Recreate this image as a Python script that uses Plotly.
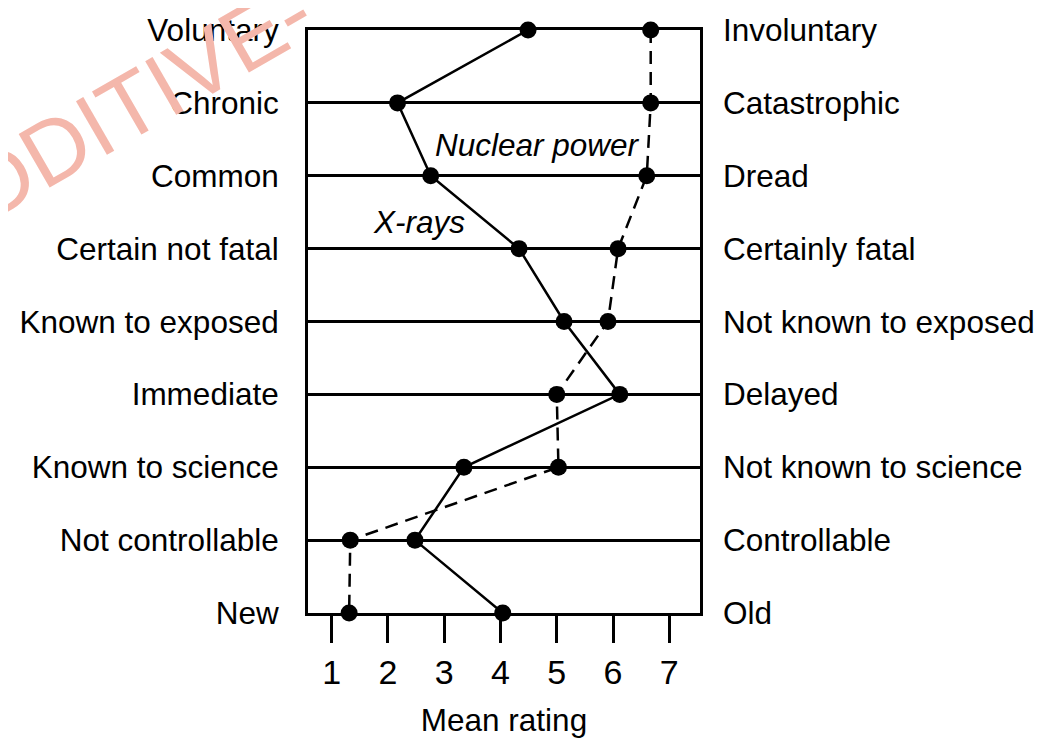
import plotly.graph_objects as go

left_labels = ["Voluntary", "Chronic", "Common", "Certain not fatal", "Known to exposed",
               "Immediate", "Known to science", "Not controllable", "New"]
right_labels = ["Involuntary", "Catastrophic", "Dread", "Certainly fatal", "Not known to exposed",
                "Delayed", "Not known to science", "Controllable", "Old"]
xrays = [4.49, 2.17, 2.76, 4.33, 5.13, 6.12, 3.35, 2.48, 4.04]
nuclear = [6.67, 6.67, 6.60, 6.09, 5.91, 5.00, 5.03, 1.33, 1.31]
x_ticks = [1, 2, 3, 4, 5, 6, 7]

FONT = "Liberation Sans, Arial, Helvetica, sans-serif"
BLACK = "#000000"

fig = go.Figure()

fig.add_trace(go.Scatter(
    x=xrays, y=left_labels, mode="lines+markers", name="X-rays",
    line=dict(color=BLACK, width=2.5), marker=dict(color=BLACK, size=17),
    cliponaxis=False, showlegend=False))
fig.add_trace(go.Scatter(
    x=nuclear, y=left_labels, mode="lines+markers", name="Nuclear power",
    line=dict(color=BLACK, width=2.5, dash="13px,8px"), marker=dict(color=BLACK, size=17),
    cliponaxis=False, showlegend=False))
# helper on the right axis (invisible) so that it is drawn
fig.add_trace(go.Scatter(
    x=nuclear, y=right_labels, yaxis="y2", mode="markers",
    marker=dict(opacity=0), hoverinfo="skip", showlegend=False))

fig.add_annotation(x=4.65, y=6.42, xref="x", yref="y", text="<i>Nuclear power</i>",
                   showarrow=False, font=dict(family=FONT, size=31.5, color=BLACK))
fig.add_annotation(x=2.55, y=5.37, xref="x", yref="y", text="<i>X-rays</i>",
                   showarrow=False, font=dict(family=FONT, size=31.5, color=BLACK))

# watermark (partly outside the page, as in the source)
fig.add_annotation(x=-0.50, y=0.852, xref="paper", yref="paper", text="ADDITIVE-",
                   showarrow=False, textangle=-30, xanchor="center", yanchor="middle",
                   font=dict(family=FONT, size=90, color="#f4b7ab"))

fig.update_layout(
    width=1053, height=739,
    margin=dict(l=300, r=361, t=22, b=134, pad=0),
    paper_bgcolor="white", plot_bgcolor="white",
    font=dict(family=FONT, size=31.5, color=BLACK),
    xaxis=dict(
        range=[0.579, 7.546], tickvals=x_ticks, ticktext=[str(v) for v in x_ticks],
        ticks="outside", ticklen=27, tickwidth=2.5, tickcolor=BLACK,
        tickfont=dict(family=FONT, size=34, color=BLACK),
        showgrid=False, zeroline=False, automargin=False,
        showline=True, linecolor=BLACK, linewidth=3, mirror=True,
        title=dict(text="Mean rating", font=dict(family=FONT, size=31.5, color=BLACK), standoff=20),
    ),
    yaxis=dict(
        type="category", categoryorder="array", categoryarray=left_labels[::-1],
        range=[0, 8], ticks="", ticklabelstandoff=20, automargin=False,
        tickfont=dict(family=FONT, size=31.5, color=BLACK),
        showgrid=True, gridcolor=BLACK, gridwidth=3, zeroline=False,
        showline=True, linecolor=BLACK, linewidth=3, mirror=True,
    ),
    yaxis2=dict(
        type="category", categoryorder="array", categoryarray=right_labels[::-1],
        range=[0, 8], overlaying="y", side="right", ticks="", ticklabelstandoff=22,
        automargin=False,
        tickfont=dict(family=FONT, size=31.5, color=BLACK),
        showgrid=False, zeroline=False, showline=False,
    ),
)

fig.write_html("out.html")
